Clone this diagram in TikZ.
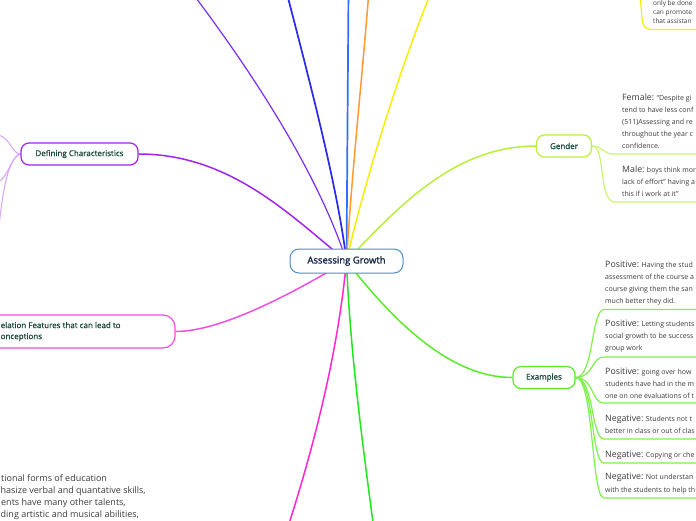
\documentclass[tikz,border=0pt]{standalone}
\usepackage{fontspec}
\setmainfont{Open Sans}
\newfontfamily\titlef[FakeBold=1]{Open Sans}
\newfontfamily\centf[FakeBold=1.8]{Open Sans}
\usetikzlibrary{backgrounds}
\definecolor{cblue}{HTML}{4C8DCB}
\definecolor{violetb}{HTML}{7A2EF2}
\definecolor{blueb}{HTML}{2A2AEE}
\definecolor{lblue}{HTML}{2F6EFF}
\definecolor{orangeb}{HTML}{FF9B30}
\definecolor{yellowb}{HTML}{F5F000}
\definecolor{limeb}{HTML}{B9F03C}
\definecolor{limel}{HTML}{CBF56E}
\definecolor{exg}{HTML}{5CEB2A}
\definecolor{exl}{HTML}{7EF24A}
\definecolor{bgreen}{HTML}{1FE61F}
\definecolor{magb}{HTML}{FF26D4}
\definecolor{relp}{HTML}{F04FE0}
\definecolor{defp}{HTML}{A224EE}
\definecolor{defl}{HTML}{D7A3F7}
\definecolor{titletext}{HTML}{1D4A3E}
\definecolor{centtext}{HTML}{1B2B4D}
\definecolor{txtgray}{HTML}{3C3C3C}
\newcommand\lbl[1]{{\fontsize{8.8}{10}\selectfont #1}}
\begin{document}
\begin{tikzpicture}[x=1pt,y=-1pt,
  cbox/.style={draw=cblue, line width=1pt, rounded corners=9pt, fill=white,
    minimum width=113pt, minimum height=24pt, inner sep=0pt,
    font=\centf\fontsize{9.5}{11}\selectfont, text=centtext},
  tbox/.style={line width=1.2pt, rounded corners=8pt, fill=white,
    minimum height=22pt, inner sep=0pt,
    font=\titlef\fontsize{8}{11}\selectfont, text=titletext},
  branch/.style={line width=1.5pt},
  leafline/.style={line width=1.2pt},
  ltext/.style={anchor=base west, inner sep=0pt, font=\fontsize{7}{9}\selectfont, text=txtgray},
  ntext/.style={anchor=base west, inner sep=0pt, font=\fontsize{9}{12}\selectfont, text=txtgray},
  stext/.style={anchor=base west, inner sep=0pt, font=\fontsize{6.5}{9}\selectfont, text=txtgray}
]
\useasboundingbox (0,0) rectangle (696,520);

% main nodes
\node[cbox] (ag) at (346.5,261) {Assessing Growth};
\node[tbox, draw=limeb, minimum width=55pt] (gen) at (564,146) {Gender};
\node[tbox, draw=exg, minimum width=62pt] (ex) at (544,377.5) {Examples};
\node[tbox, draw=defp, minimum width=117pt] (dc) at (79.5,154) {Defining Characteristics};
\node[tbox, draw=relp, rounded corners=12pt, minimum height=33pt, minimum width=201pt] (rel) at (74.5,331.5) {};
\node[anchor=west, inner sep=0pt, align=left, text=titletext,
  font=\titlef\fontsize{8}{11}\selectfont] (relt) at (0.5,331.5)
  {elation Features that can lead to\\onceptions};

% free ends
\coordinate (vt) at (190,-10);
\coordinate (bt) at (286,-10);
\coordinate (lt) at (348.5,-10);
\coordinate (ot) at (369,-10);
\coordinate (yt) at (432,-10);
\coordinate (gb) at (374,530);
\coordinate (mb) at (287,530);
\coordinate (d1) at (-2,135);
\coordinate (d2) at (-2,182);
\coordinate (d3) at (-1,226);

% leaf underline coordinates
\coordinate (fa) at (614,154);  \coordinate (fb) at (700,154);
\coordinate (ma) at (615,202);  \coordinate (mbb) at (700,202);
\coordinate (ya0) at (640,-5);  \coordinate (ya) at (654,29.5); \coordinate (yb) at (700,29.5);
\foreach \n/\y in {1/309.5,2/357,3/403,4/439,5/463,6/498}{
  \coordinate (e\n a) at (604,\y);
  \coordinate (e\n b) at (700,\y);
}

% texts: Gender leaves
\node[ltext] (f1) at (622,100) {\lbl{Female:} “Despite gi};
\node[ltext] (f2) at (622,112) {tend to have less conf};
\node[ltext] (f3) at (622,124) {(511)Assessing and re};
\node[ltext] (f4) at (622,136) {throughout the year c};
\node[ltext] (f5) at (622,148) {confidence.};
\node[ltext] (m1) at (622,172) {\lbl{Male:} boys think mor};
\node[ltext] (m2) at (622,184) {lack of effort” having a};
\node[ltext] (m3) at (622,196) {this if i work at it”};

% Examples leaves
\node[ltext] (x11) at (605,267.5) {\lbl{Positive:} Having the stud};
\node[ltext] (x12) at (605,279.5) {assessment of the course a};
\node[ltext] (x13) at (605,291.5) {course giving them the san};
\node[ltext] (x14) at (605,303.5) {much better they did.};
\node[ltext] (x21) at (605,326) {\lbl{Positive:} Letting students};
\node[ltext] (x22) at (605,338) {social growth to be success};
\node[ltext] (x23) at (605,350) {group work};
\node[ltext] (x31) at (605,374) {\lbl{Positive:} going over how};
\node[ltext] (x32) at (605,386.5) {students have had in the m};
\node[ltext] (x33) at (605,398) {one on one evaluations of t};
\node[ltext] (x41) at (605,421) {\lbl{Negative:} Students not t};
\node[ltext] (x42) at (605,433) {better in class or out of clas};
\node[ltext] (x51) at (605,457) {\lbl{Negative:} Copying or che};
\node[ltext] (x61) at (605,479.5) {\lbl{Negative:} Not understan};
\node[ltext] (x62) at (605,492) {with the students to help th};

% top right yellow leaf
\node[stext] (y1) at (653,5) {only be done};
\node[stext] (y2) at (653,14.5) {can promote};
\node[stext] (y3) at (653,23.5) {that assistan};

% bottom-left note (visible part)
\node[ntext] (n1) at (1,481) {tional forms of education};
\node[ntext] (n2) at (0.5,493) {hasize verbal and quantative skills,};
\node[ntext] (n3) at (1,505) {ents have many other talents,};
\node[ntext] (n4) at (0.5,517) {ding artistic and musical abilities,};

\begin{scope}[on background layer]
\fill[white] (0,0) rectangle (696,520);
% top branches
\draw[branch, violetb, line width=1.2pt] (ag.center) .. controls (320,180) and (262,85) .. (vt);
\draw[branch, blueb, line width=1.7pt] (ag.center) .. controls (338,190) and (312,90) .. (bt);
\draw[branch, lblue, line width=1.7pt] (ag.center) -- (lt);
\draw[branch, orangeb] (ag.center) .. controls (352,170) and (362,80) .. (ot);
\draw[branch, yellowb] (ag.center) .. controls (360,200) and (395,80) .. (yt);
% side branches
\draw[branch, limeb] (ag.center) .. controls (400,205) and (455,146) .. (gen.west);
\draw[branch, exg] (ag.center) .. controls (400,330) and (455,377.5) .. (ex.west);
\draw[branch, bgreen] (ag.center) .. controls (350,350) and (362,440) .. (gb);
\draw[branch, magb] (ag.center) .. controls (338,350) and (316,440) .. (mb);
\draw[branch, defp] (ag.center) .. controls (290,215) and (230,154) .. (dc.east);
\draw[branch, relp] (ag.center) .. controls (290,295) and (220,331.5) .. (rel.east);
% Defining children
\draw[leafline, defl, line width=1pt] (dc.west) .. controls (12,154) and (10,137) .. (d1);
\draw[leafline, defl, line width=1pt] (dc.west) .. controls (12,155) and (8,178) .. (d2);
\draw[leafline, defl, line width=1pt] (dc.west) .. controls (8,158) and (3,190) .. (d3);
% Gender children
\draw[leafline, limel] (gen.east) .. controls (603,146) and (602,154) .. (fa) -- (fb);
\draw[leafline, limel] (gen.east) .. controls (606,146) and (598,202) .. (ma) -- (mbb);
% yellow leaf
\draw[leafline, yellowb] (ya0) -- (642,18) .. controls (643,28) and (646,29.5) .. (ya) -- (yb);
% Examples children
\foreach \n/\y in {1/309.5,2/357,3/403,4/439,5/463,6/498}{
  \draw[leafline, exl] (ex.east) .. controls (594,377.5) and (591,\y) .. (e\n a) -- (e\n b);
}
\end{scope}
\end{tikzpicture}
\end{document}
